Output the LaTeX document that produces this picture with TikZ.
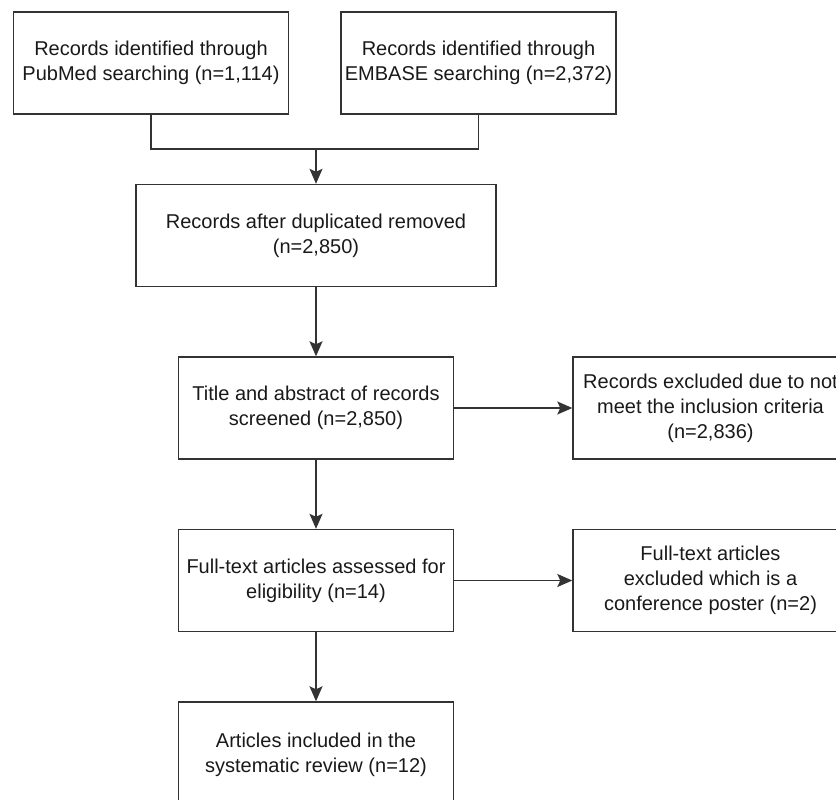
\documentclass[tikz,border=0pt]{standalone}
\usepackage{fontspec}
\setmainfont{Liberation Sans}
\usetikzlibrary{arrows.meta,positioning}
\tikzstyle{recNode} = [rectangle, minimum width=275pt, minimum height=102pt, text centered, align=center, draw=black!80, line width=1.4pt, text=black!90, font=\fontsize{20}{25}\selectfont]
\tikzstyle{recNodeW} = [recNode, minimum width=360pt]
\tikzstyle{line} = [line width=1.4pt, draw=black!80]
\tikzstyle{arrow} = [line, ->, >={Stealth[length=15pt,width=13pt,inset=3pt]}]

\begin{document}
\begin{tikzpicture}[node distance=172.5pt]
        \clip (0,0) rectangle (836pt,-800pt);
        \node (pubmed) [recNode] at (151pt,-63pt) {Records identified through\\PubMed searching (n=1,114)};
        \node (embase) [recNode, right of=pubmed, xshift=155pt] {Records identified through\\EMBASE searching (n=2,372)};
        \node (dedup) [recNodeW, below of=pubmed, xshift=165pt] {Records after duplicated removed\\(n=2,850)};
        \node (screen) [recNode, below of=dedup] {Title and abstract of records\\screened (n=2,850)};
        \node (excl1) [recNode, right of=screen, xshift=222pt] {Records excluded due to not\\meet the inclusion criteria\\(n=2,836)};
        \node (fulltext) [recNode, below of=screen] {Full-text articles assessed for\\eligibility (n=14)};
        \node (excl2) [recNode, right of=fulltext, xshift=222pt] {Full-text articles\\excluded which is a\\conference poster (n=2)};
        \node (included) [recNode, below of=fulltext, yshift=-2pt, minimum height=106pt] {Articles included in the\\systematic review (n=12)};
        \coordinate [above=35pt of dedup.north] (join);

        \draw [line] (pubmed.south) |- (join);
        \draw [line] (embase.south) |- (join);
        \draw [arrow] (join) -- (dedup);
        \draw [arrow] (dedup) -- (screen);
        \draw [arrow] (screen) -- (excl1);
        \draw [arrow] (screen) -- (fulltext);
        \draw [arrow] (fulltext) -- (excl2);
        \draw [arrow] (fulltext) -- (included);
    \end{tikzpicture}
\end{document}
